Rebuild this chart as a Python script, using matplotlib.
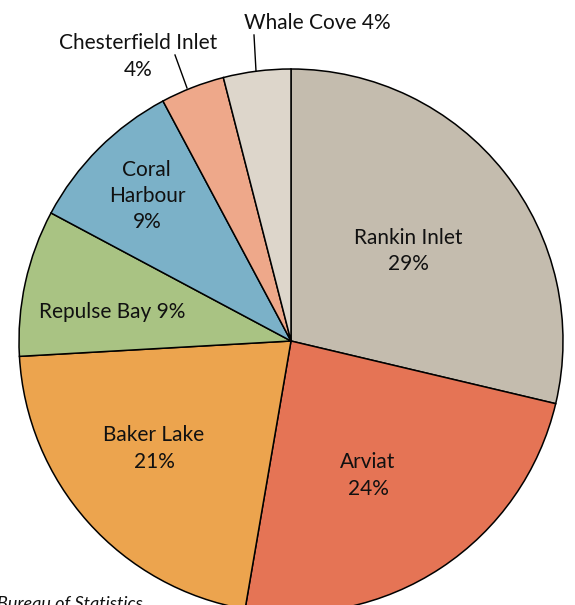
import matplotlib.pyplot as plt

communities = ["Rankin Inlet", "Arviat", "Baker Lake", "Repulse Bay",
               "Coral Harbour", "Chesterfield Inlet", "Whale Cove"]
shares = [28.7, 24.0, 21.4, 8.7, 9.4, 3.8, 4.0]
pct_labels = ["29%", "24%", "21%", "9%", "9%", "4%", "4%"]
colors = ["#c4bcae", "#e57455", "#eca44e", "#a9c383",
          "#7bb1c8", "#eea88a", "#ddd6cb"]

W, H = 575, 605
fig = plt.figure(figsize=(W / 100, H / 100), dpi=100)
ax = fig.add_axes([0, 0, 1, 1])

cx, cy, r = 291, H - 341, 272
ax.pie(shares, colors=colors, startangle=90, counterclock=False,
       center=(cx, cy), radius=r, frame=True,
       wedgeprops=dict(edgecolor="black", linewidth=1.1))
ax.set_xlim(0, W)
ax.set_ylim(0, H)
ax.axis("off")

font = "Lato"
fs = 15


def px(x, y, s, **kw):
    ax.text(x, H - y, s, ha="center", va="center", fontsize=fs,
            family=font, color="#111111", **kw)


px(408, 238, communities[0])
px(408, 264, pct_labels[0])
px(368, 462, communities[1])
px(368, 489, pct_labels[1])
px(154, 435, communities[2])
px(154, 462, pct_labels[2])
px(112, 312, communities[3] + " " + pct_labels[3])
px(146, 170, "Coral")
px(147, 196, "Harbour")
px(147, 222, pct_labels[4])
px(138, 43, communities[5])
px(138, 70, pct_labels[5])
px(317, 23, communities[6] + " " + pct_labels[6])

# leader lines
ax.plot([175, 187], [H - 55, H - 88], color="black", lw=1)
ax.plot([254, 256], [H - 35, H - 71], color="black", lw=1)

ax.text(-3, H - 604, "Bureau of Statistics", ha="left", va="center",
        fontsize=13, family=font, style="italic", color="#111111")

fig.savefig("out.png", dpi=100)
